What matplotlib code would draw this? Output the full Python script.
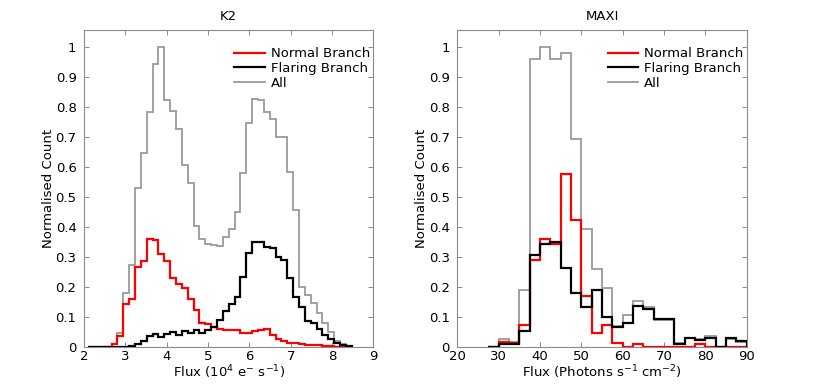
"""Normalised flux histograms for the K2 and MAXI light curves."""

import matplotlib
matplotlib.use("Agg")
import matplotlib.pyplot as plt
import numpy as np

# K2 histogram: uniform bins starting at 2.096 (10^4 e-/s), width 0.1418
K2_START = 2.096
K2_WIDTH = 0.1418
k2_normal = [0, 0, 0, 0, 0.008, 0.035,
             0.143, 0.158, 0.265, 0.286, 0.359, 0.357, 0.31, 0.286, 0.23, 0.211,
             0.197, 0.158, 0.123, 0.078, 0.075, 0.067, 0.058, 0.056, 0.055, 0.055,
             0.045, 0.045, 0.051, 0.056, 0.058, 0.039, 0.025, 0.02, 0.014, 0.011,
             0.008, 0.005, 0.005, 0.005, 0.003, 0.002, 0, 0, 0]
k2_flaring = [0, 0, 0, 0, 0, 0,
              0, 0.002, 0.009, 0.019, 0.036, 0.043, 0.031, 0.042, 0.048, 0.04,
              0.053, 0.045, 0.056, 0.045, 0.056, 0.067, 0.088, 0.12, 0.143, 0.167,
              0.232, 0.312, 0.35, 0.349, 0.334, 0.331, 0.30, 0.289, 0.228, 0.165,
              0.131, 0.087, 0.078, 0.059, 0.039, 0.025, 0.011, 0.005, 0.002]
k2_all = [0, 0, 0, 0, 0.008, 0.045,
          0.18, 0.273, 0.529, 0.646, 0.785, 0.943, 1.0, 0.824, 0.788, 0.726,
          0.607, 0.546, 0.403, 0.359, 0.343, 0.34, 0.337, 0.366, 0.392, 0.451,
          0.58, 0.746, 0.827, 0.824, 0.785, 0.76, 0.70, 0.70, 0.585, 0.457,
          0.20, 0.173, 0.147, 0.114, 0.078, 0.05, 0.02, 0.009, 0.003]

# MAXI histogram: bins of 2.5 photons/s/cm^2 from 27.5 to 90
maxi_edges = [27.5, 30, 32.5, 35, 37.5, 40, 42.5, 45, 47.5, 50, 52.5, 55, 57.5,
              60, 62.5, 65, 67.5, 70, 72.5, 75, 77.5, 80, 82.5, 85, 87.5, 90]
maxi_normal = [0, 0.017, 0.011, 0.072, 0.29, 0.36, 0.342, 0.577, 0.423, 0.17,
               0.045, 0.072, 0.011, 0, 0.009, 0, 0, 0, 0, 0, 0.009, 0, 0, 0, 0]
maxi_flaring = [0, 0.008, 0.008, 0.052, 0.306, 0.343, 0.351, 0.262, 0.178, 0.134,
                0.189, 0.098, 0.065, 0.08, 0.136, 0.125, 0.091, 0.091, 0.009, 0.028,
                0.022, 0.028, 0, 0.028, 0.02]
maxi_all = [0, 0.025, 0.017, 0.19, 0.961, 1.0, 0.961, 0.982, 0.693, 0.394,
            0.26, 0.197, 0.069, 0.106, 0.154, 0.134, 0.089, 0.089, 0.011, 0.028,
            0.025, 0.036, 0, 0.027, 0.017]

K2_TICKS = [2, 3, 4, 5, 6, 7, 8, 9]
MAXI_TICKS = [20, 30, 40, 50, 60, 70, 80, 90]
Y_TICKS = [0, 0.1, 0.2, 0.3, 0.4, 0.5, 0.6, 0.7, 0.8, 0.9, 1]

GREY = "#9a9a9a"
SPINE = "#8a8a8a"
FS = 9.5

plt.rcParams["font.family"] = ["DejaVu Sans"]
plt.rcParams["mathtext.default"] = "regular"
plt.rcParams["font.size"] = FS


def draw_panel(ax, edges, normal, flaring, total, title, xlabel, xlim, xticks):
    h_all = ax.stairs(total, edges, color=GREY, lw=1.3, label="All", zorder=2)
    h_norm = ax.stairs(normal, edges, color="red", lw=1.6, label="Normal Branch", zorder=3)
    h_flar = ax.stairs(flaring, edges, color="black", lw=1.6, label="Flaring Branch", zorder=4)

    ax.set_xlim(*xlim)
    ax.set_ylim(0, 1.058)
    ax.set_xticks(xticks)
    ax.set_yticks(Y_TICKS)
    ax.set_yticklabels([f"{t:g}" for t in Y_TICKS])
    ax.tick_params(direction="in", length=3.5, width=0.7, color=SPINE,
                   top=True, right=True, labelsize=FS, pad=2.5)
    ax.tick_params(axis="y", pad=5.5)
    for spine in ax.spines.values():
        spine.set_color(SPINE)
        spine.set_linewidth(0.8)

    ax.set_title(title, fontsize=FS, pad=7)
    ax.set_xlabel(xlabel, fontsize=FS, labelpad=0)
    ax.set_ylabel("Normalised Count", fontsize=FS, labelpad=0.5)

    ax.legend([h_norm, h_flar, h_all], ["Normal Branch", "Flaring Branch", "All"],
              loc="upper left", bbox_to_anchor=(0.52, 0.945), frameon=False,
              handlelength=2.3, handletextpad=0.45, labelspacing=0.12,
              borderpad=0, borderaxespad=0, fontsize=FS)


def main() -> None:
    fig = plt.figure(figsize=(8.30, 3.86), dpi=100)
    ax_k2 = fig.add_axes([0.1014, 0.1018, 0.3483, 0.8205])
    ax_maxi = fig.add_axes([0.5512, 0.1018, 0.3483, 0.8205])

    k2_edges = K2_START + K2_WIDTH * np.arange(len(k2_all) + 1)
    draw_panel(ax_k2, k2_edges, k2_normal, k2_flaring, k2_all, "K2",
               r"Flux (10$^4$ e$^{-}$ s$^{-1}$)", (2, 9), K2_TICKS)
    draw_panel(ax_maxi, maxi_edges, maxi_normal, maxi_flaring, maxi_all, "MAXI",
               r"Flux (Photons s$^{-1}$ cm$^{-2}$)", (20, 90), MAXI_TICKS)

    fig.savefig("out.png", dpi=100)
    plt.close(fig)


if __name__ == "__main__":
    main()
